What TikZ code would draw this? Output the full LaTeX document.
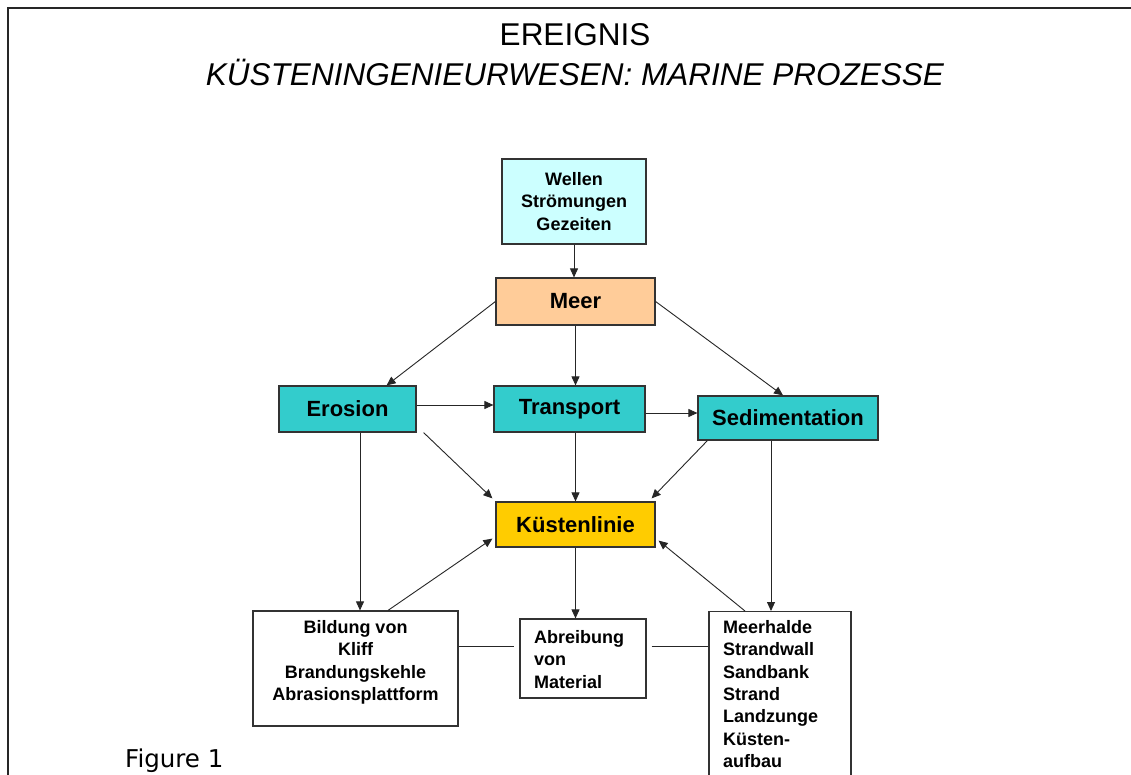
\documentclass[tikz,border=0pt]{standalone}
\usepackage{fontspec}
\setmainfont{Liberation Sans}
\newfontfamily\verdfont{DejaVu Sans}
\usetikzlibrary{arrows.meta,calc}
\definecolor{cyanL}{HTML}{CCFFFF}
\definecolor{peach}{HTML}{FFCC99}
\definecolor{tealB}{HTML}{33CCCC}
\definecolor{goldB}{HTML}{FFCC00}
\begin{document}
\begin{tikzpicture}[x=1pt,y=-1pt,
 box/.style={draw=black!80, line width=1.2pt, inner sep=0pt, font=\fontsize{22}{26}\selectfont\bfseries},
 small/.style={font=\fontsize{18}{22.4}\selectfont\bfseries},
 arr/.style={-{Triangle[length=9pt,width=8pt]}, line width=0.9pt, draw=black!85},
 ln/.style={line width=0.9pt, draw=black!85}]
\path[use as bounding box] (0,0) rectangle (1131,775);
\clip (0,0) rectangle (1131,775);
\fill[white] (0,0) rectangle (1131,775);
\draw[line width=1.5pt, black!85] (8,780) -- (8,8) -- (1135,8);

\node[font=\fontsize{31.5}{36}\selectfont] (tA) at (575,35) {EREIGNIS};
\node[font=\fontsize{31.5}{36}\selectfont\itshape] (tB) at (575,72) {KÜSTENINGENIEURWESEN: MARINE PROZESSE};

\node[box, small, fill=cyanL, minimum width=144, minimum height=85, align=center] (wel) at (574,201.5) {Wellen\\Strömungen\\Gezeiten};
\node[box, fill=peach, minimum width=159, minimum height=47] (meer) at (575.5,301.5) {Meer};
\node[box, fill=tealB, minimum width=137, minimum height=46] (ero) at (347.5,409) {Erosion};
\node[box, fill=tealB, minimum width=151, minimum height=46] (tra) at (569.5,409) {Transport};
\node[box, fill=tealB, minimum width=180, minimum height=44] (sed) at (788,418) {Sedimentation};
\node[box, fill=goldB, minimum width=159, minimum height=45] (kue) at (575.5,524.5) {Küstenlinie};
\node[box, fill=white, minimum width=205, minimum height=115] (bil) at (355.5,668.5) {};
\node[box, fill=white, minimum width=126, minimum height=79] (abr) at (583,658.5) {};
\node[box, fill=white, minimum width=142, minimum height=190, anchor=north] (mee) at (780,611) {};

\node[small, align=center, anchor=north, inner sep=0pt] (bilt) at (355.5,620) {Bildung von\\Kliff\\Brandungskehle\\Abrasionsplattform};
\node[small, align=left, anchor=north west, inner sep=0pt] (abrt) at (534,630) {Abreibung\\von\\Material};
\node[small, align=left, anchor=north west, inner sep=0pt] (meet) at (723,620) {Meerhalde\\Strandwall\\Sandbank\\Strand\\Landzunge\\Küsten-\\aufbau};

\node[font=\verdfont\fontsize{24.5}{29}\selectfont, anchor=base west, inner sep=0pt] (fig) at (125,767) {Figure 1};

\draw[arr] (wel.south) -- (wel.south |- meer.north);
\draw[arr] (meer.west) -- ([xshift=-30pt]ero.north east);
\draw[arr] (meer.south) -- (meer.south |- tra.north);
\draw[arr] (meer.east) -- ([xshift=-5pt]sed.north);
\coordinate (e1) at ([yshift=4pt]ero.east);
\draw[arr] (e1) -- (e1 -| tra.west);
\coordinate (t1) at ([yshift=-4pt]tra.east);
\draw[arr] (t1) -- (t1 -| sed.west);
\draw[arr] ([xshift=7pt]ero.south east) -- ([xshift=-3pt,yshift=3pt]kue.north west);
\draw[arr] (kue.north |- tra.south) -- (kue.north);
\draw[arr] ([xshift=10pt]sed.south west) -- ([xshift=-4pt,yshift=3pt]kue.north east);
\coordinate (e2) at ([xshift=12.5pt]ero.south);
\draw[arr] (e2) -- (e2 |- bil.north);
\coordinate (s2) at ([xshift=-17pt]sed.south);
\draw[arr] (s2) -- (s2 |- mee.north);
\draw[arr] ([xshift=32.5pt]bil.north) -- ([xshift=-3pt,yshift=9pt]kue.south west);
\draw[arr] ([xshift=-35pt]mee.north) -- ([xshift=3pt,yshift=7pt]kue.south east);
\draw[arr] (kue.south) -- (kue.south |- abr.north);
\coordinate (m1) at ([yshift=22.5pt]bil.east);
\draw[ln, shorten >=5pt] (m1) -- (m1 -| abr.west);
\draw[ln, shorten <=5pt] (m1 -| abr.east) -- (m1 -| mee.west);
\end{tikzpicture}
\end{document}
